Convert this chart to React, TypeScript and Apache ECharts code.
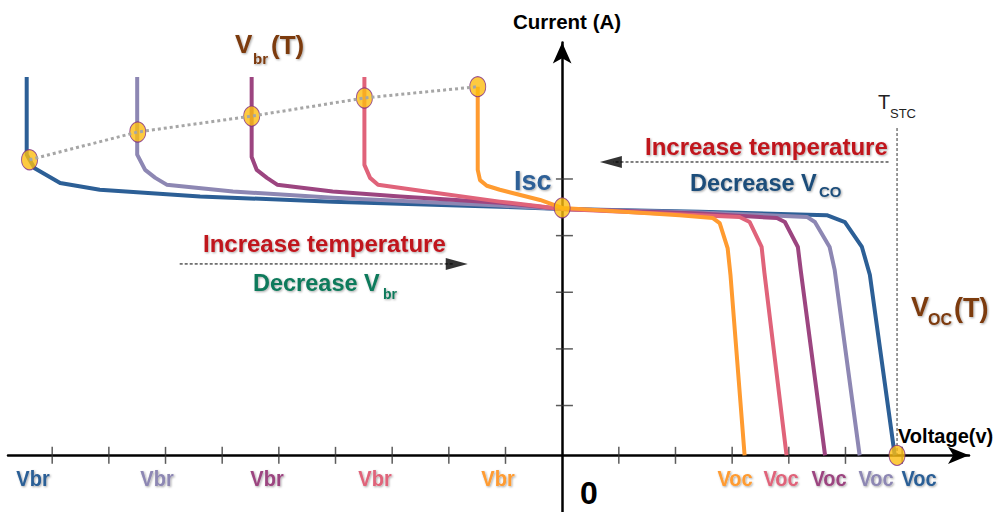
import React, { useEffect, useRef } from "react";
import * as echarts from "echarts";

// ---- data (voltage units = one tick, current units = one tick) ----
const X_TICKS = [-9, -8, -7, -6, -5, -4, -3, -2, -1, 1, 2, 3, 4, 5, 6];
const Y_TICKS = [0.88, 1.88, 2.88, 3.88, 4.88];

const CURVE_NAMES = ["T1", "T2", "T3", "T4", "T5"];
const CURVE_COLORS = ["#2C5F96", "#8D87B3", "#9C4580", "#E0637A", "#FF9B30"];

const curveBlue = [[-9.45, 6.68], [-9.45, 5.31], [-9.4, 5.22], [-9.31, 5.07], [-8.86, 4.81], [-8.16, 4.69], [-6.39, 4.57], [-4.05, 4.48], [-1.1, 4.39], [0, 4.35], [2.43, 4.3], [4.67, 4.24], [4.99, 4.12], [5.29, 3.68], [5.43, 3.19], [5.87, 0]];
const curveLavender = [[-7.5, 6.68], [-7.5, 5.31], [-7.36, 5.04], [-7.18, 4.9], [-6.98, 4.78], [-5.81, 4.66], [-4.05, 4.55], [-1.1, 4.41], [0, 4.35], [2.43, 4.29], [4.32, 4.21], [4.46, 4.12], [4.72, 3.68], [4.81, 3.27], [5.25, 0]];
const curvePurple = [[-5.48, 6.68], [-5.48, 5.27], [-5.39, 5.04], [-5.21, 4.9], [-5.03, 4.78], [-4.05, 4.66], [-2.86, 4.57], [-1.1, 4.46], [0, 4.35], [2.43, 4.27], [3.79, 4.19], [3.93, 4.12], [4.16, 3.68], [4.21, 3.27], [4.64, 0]];
const curvePink = [[-3.49, 6.68], [-3.49, 5.13], [-3.39, 4.9], [-3.25, 4.78], [-2.28, 4.64], [-1.1, 4.48], [0, 4.35], [2.43, 4.24], [3.13, 4.21], [3.31, 4.12], [3.52, 3.68], [3.57, 3.22], [3.96, 0]];
const curveOrange = [[-1.49, 6.51], [-1.49, 5.04], [-1.45, 4.86], [-1.33, 4.76], [-1.1, 4.69], [-0.39, 4.51], [0, 4.37], [2.07, 4.24], [2.66, 4.19], [2.78, 4.1], [2.92, 3.66], [2.97, 3.19], [3.22, 0]];
const CURVES = [curveBlue, curveLavender, curvePurple, curvePink, curveOrange];

const VBR_POINTS = [[-9.4, 5.22], [-7.49, 5.71], [-5.48, 5.99], [-3.49, 6.31], [-1.49, 6.51]];
const ISC_POINT = [0, 4.37];
const VOC_POINT = [5.91, 0];
const TSTC_LINE = [[5.91, 5.78], [5.91, 0]];
// dashed arrow shafts and arrow-head centres
const ARROW_LEFT_LINE = [[5.76, 5.18], [0.9, 5.18]];
const ARROW_LEFT_HEAD = [0.86, 5.18];
const ARROW_RIGHT_LINE = [[-6.75, 3.38], [-1.9, 3.38]];
const ARROW_RIGHT_HEAD = [-1.86, 3.38];

const VBR_LABEL_X = [33, 157, 267, 375, 498];
const VOC_LABEL_X = [919, 876, 829, 781, 735];

export default function App() {
  const ref = useRef<HTMLDivElement>(null);
  useEffect(() => {
    if (!ref.current) return;
    const chart = echarts.init(ref.current, null, { renderer: "svg" });
    const FF = "'Liberation Sans', Arial, sans-serif";
    const shadow = { textShadowColor: "rgba(0,0,0,0.35)", textShadowBlur: 2, textShadowOffsetX: 1, textShadowOffsetY: 1 };
    const txt = (x: number, y: number, text: string, size: number, fill: string, bold = true, align = "left", extra: any = {}) => ({
      type: "text",
      x,
      y,
      silent: true,
      z: 100,
      ...extra.el,
      style: {
        text,
        fill,
        fontSize: size,
        fontWeight: bold ? "bold" : "normal",
        fontFamily: FF,
        align,
        verticalAlign: "middle",
        ...(extra.shadow ? shadow : {}),
      },
    });
    const graphics: any[] = [
      txt(567, 21, "Current (A)", 20.5, "#000", true, "center"),
      txt(898, 436, "Voltage(v)", 20, "#000", true, "left"),
      txt(235, 44, "V", 26, "#7C3A10", true, "left", { shadow: true }),
      txt(253, 58, "br", 15, "#7C3A10", true, "left", { shadow: true }),
      txt(271, 45, "(T)", 26, "#7C3A10", true, "left", { shadow: true }),
      txt(911, 307, "V", 27, "#7C3A10", true, "left", { shadow: true }),
      txt(928, 319, "OC", 16, "#7C3A10", true, "left", { shadow: true }),
      txt(954, 308, "(T)", 27, "#7C3A10", true, "left", { shadow: true }),
      txt(514, 181, "Isc", 27, "#2F6097", true, "left", { shadow: true }),
      txt(645, 146, "Increase temperature", 24, "#C0141E", true, "left", { shadow: true }),
      txt(203, 243, "Increase temperature", 24, "#C0141E", true, "left", { shadow: true }),
      txt(690, 183, "Decrease V", 23.5, "#1F4E7A", true, "left", { shadow: true }),
      txt(819, 191, "CO", 15, "#1F4E7A", true, "left", { shadow: true }),
      txt(253, 283, "Decrease V", 23.5, "#117A5B", true, "left", { shadow: true }),
      txt(383, 294, "br", 14, "#117A5B", true, "left", { shadow: true }),
      txt(878, 102, "T", 20, "#222", false, "left"),
      txt(890, 113, "STC", 13, "#222", false, "left"),
      txt(580, 493, "0", 32, "#000", true, "left"),
    ];
    VBR_LABEL_X.forEach((x, i) => graphics.push(txt(x, 478, "Vbr", 20, CURVE_COLORS[i], true, "center", { shadow: true, el: { scaleY: 1.12 } })));
    VOC_LABEL_X.forEach((x, i) => graphics.push(txt(x, 478, "Voc", 20, CURVE_COLORS[i], true, "center", { shadow: true, el: { scaleY: 1.12 } })));

    const dotStyle = { color: "#FDBD10", borderColor: "#7E2A84", borderWidth: 1 };
    const dashed = (pts: number[][]) => ({
      type: "line",
      silent: true,
      showSymbol: false,
      data: pts,
      lineStyle: { color: "#000", width: 1, type: [3, 2] },
      z: 12,
    });

    chart.setOption({
      animation: false,
      grid: { left: 8, right: 28, top: 42.5, bottom: 0 },
      xAxis: {
        type: "value",
        min: -9.78,
        max: 7.18,
        axisLine: { onZero: true, symbol: ["none", "arrow"], symbolSize: [13, 21], lineStyle: { color: "#000", width: 2.5 } },
        axisTick: { show: false },
        axisLabel: { show: false },
        splitLine: { show: false },
      },
      yAxis: {
        type: "value",
        min: -1,
        max: 7.29,
        axisLine: { onZero: true, symbol: ["none", "arrow"], symbolSize: [14, 21], lineStyle: { color: "#000", width: 2.5 } },
        axisTick: { show: false },
        axisLabel: { show: false },
        splitLine: { show: false },
      },
      series: [
        {
          type: "scatter",
          silent: true,
          symbol: "rect",
          symbolSize: [1.5, 17],
          itemStyle: { color: "#333" },
          data: X_TICKS.map((v) => [v, 0]),
          z: 1,
        },
        {
          type: "scatter",
          silent: true,
          symbol: "rect",
          symbolSize: [17, 1.5],
          itemStyle: { color: "#333" },
          data: Y_TICKS.map((v) => [0.04, v]),
          z: 1,
        },
        {
          type: "line",
          silent: true,
          showSymbol: false,
          data: TSTC_LINE,
          lineStyle: { color: "#333", width: 1, type: [3, 2] },
          z: 2,
        },
        ...CURVES.map((c, i) => ({
          type: "line",
          name: CURVE_NAMES[i],
          silent: true,
          showSymbol: false,
          data: c,
          lineStyle: { color: CURVE_COLORS[i], width: 4, join: "round" },
          z: 3 + i,
        })),
        {
          type: "scatter",
          silent: true,
          symbol: "circle",
          symbolSize: [16, 20],
          itemStyle: dotStyle,
          data: [...VBR_POINTS, ISC_POINT, VOC_POINT],
          z: 10,
        },
        {
          type: "line",
          silent: true,
          showSymbol: false,
          data: VBR_POINTS,
          lineStyle: { color: "#A6A6A6", width: 3, type: [3, 3] },
          z: 11,
        },
        dashed(ARROW_LEFT_LINE),
        dashed(ARROW_RIGHT_LINE),
        {
          type: "scatter",
          silent: true,
          symbol: "triangle",
          symbolSize: [12, 22],
          symbolRotate: 90,
          itemStyle: { color: "#000" },
          data: [ARROW_LEFT_HEAD],
          z: 12,
        },
        {
          type: "scatter",
          silent: true,
          symbol: "triangle",
          symbolSize: [12, 22],
          symbolRotate: -90,
          itemStyle: { color: "#000" },
          data: [ARROW_RIGHT_HEAD],
          z: 12,
        },
      ],
      graphic: graphics,
    });
    return () => chart.dispose();
  }, []);
  return <div ref={ref} style={{ position: "fixed", left: 0, top: 0, width: 997, height: 512, background: "#fff" }} />;
}
